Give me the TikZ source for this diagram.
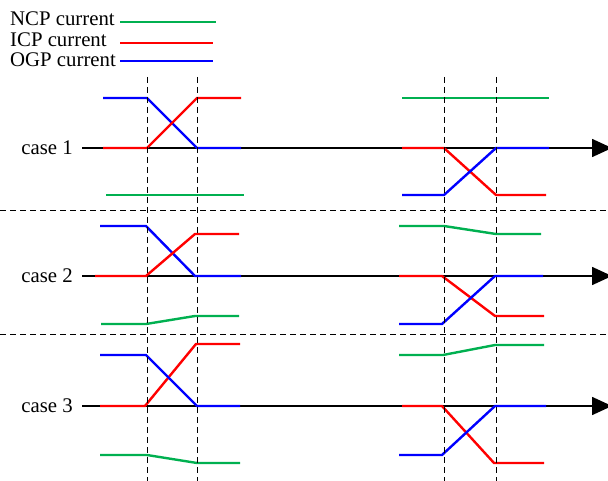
\documentclass[tikz,border=0pt]{standalone}
\usepackage{fontspec}
\setmainfont{Liberation Serif}
\usetikzlibrary{arrows.meta}
\definecolor{ncpgreen}{RGB}{0,176,80}

\begin{document}
\begin{tikzpicture}[x=1pt,y=-1pt,
    ncp/.style={ncpgreen,line width=2.4pt},
    icp/.style={red,line width=2.4pt},
    ogp/.style={blue,line width=2.4pt},
    axis/.style={line width=1.6pt,-{Triangle[length=20pt,width=18pt]}},
    sep/.style={dash pattern=on 6pt off 4pt,line width=1pt},
    lbl/.style={font=\fontsize{20.8}{24}\selectfont,inner sep=0pt},
    caselbl/.style={lbl,inner xsep=9pt,anchor=east}]
\useasboundingbox (0,0) rectangle (608,481);
% legend
       \node [lbl,anchor=base west] at (10,26) (ncp lbl) {NCP current};
       \node [lbl,anchor=base west] at (10,46.5) (icp lbl) {ICP current};
       \node [lbl,anchor=base west] at (10,66.5) (ogp lbl) {OGP current};
\draw[ncp] (120,22) -- (216,22);
\draw[icp] (120,43) -- (213,43);
\draw[ogp] (120,61) -- (213,61);
%
% time axes
       \node [caselbl] at (82,148) (case1) {case 1};
       \node [caselbl] at (82,276) (case2) {case 2};
       \node [caselbl] at (82,406) (case3) {case 3};
       \coordinate (end1) at (612,148);
       \coordinate (end2) at (612,276);
       \coordinate (end3) at (612,406);
\path[axis] (case1.east) edge (end1);
\path[axis] (case2.east) edge (end2);
\path[axis] (case3.east) edge (end3);
%
% case 1
\draw[ogp] (103,98) -- (147,98) -- (197,148) -- (241,148);
\draw[icp] (103,148) -- (147,148) -- (197,98) -- (241,98);
\draw[ncp] (106,195) -- (244,195);
\draw[ncp] (402,98) -- (549,98);
\draw[icp] (402,148) -- (444,148) -- (496,195) -- (546,195);
\draw[ogp] (402,195) -- (444,195) -- (496,148) -- (549,148);
%
% case 2
\draw[ogp] (100,226) -- (146,226) -- (195,276) -- (241,276);
\draw[icp] (95,276) -- (146,276) -- (195,234) -- (239,234);
\draw[ncp] (101,324) -- (146,324) -- (195,316) -- (239,316);
\draw[ncp] (399,226) -- (444,226) -- (496,234) -- (541,234);
\draw[icp] (399,276) -- (442,276) -- (495,316) -- (544,316);
\draw[ogp] (399,324) -- (442,324) -- (495,276) -- (543,276);
%
% case 3
\draw[icp] (100,406) -- (145,406) -- (196,344) -- (240,344);
\draw[ogp] (100,355) -- (146,355) -- (197,406) -- (240,406);
\draw[ncp] (100,455) -- (147,455) -- (197,463) -- (240,463);
\draw[ncp] (399,355) -- (443,355) -- (495,345) -- (544,345);
\draw[icp] (402,406) -- (442,406) -- (494,463) -- (544,463);
\draw[ogp] (399,455) -- (442,455) -- (495,406) -- (546,406);
%
% dashed guides
\foreach \x in {147,197,444,496}
  \draw[sep] (\x,77) -- (\x,481);
\foreach \y in {211,334}
  \draw[sep] (0,\y) -- (608,\y);
\end{tikzpicture}
\end{document}
